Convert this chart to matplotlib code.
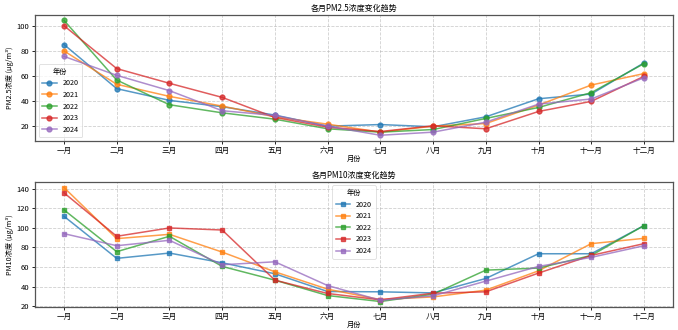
import numpy as np
import matplotlib.pyplot as plt

plt.rcParams['font.family'] = ['Noto Sans CJK SC', 'DejaVu Sans']
plt.rcParams['axes.unicode_minus'] = False

months = ['一月', '二月', '三月', '四月', '五月', '六月',
          '七月', '八月', '九月', '十月', '十一月', '十二月']
years = ['2020', '2021', '2022', '2023', '2024']

# monthly PM2.5 per year
pm25_2020 = [85.5, 50.1, 40.7, 35.6, 28.9, 20.0, 21.3, 19.5, 27.5, 42.0, 45.8, 70.8]
pm25_2021 = [80.4, 53.6, 43.9, 36.1, 27.5, 21.6, 15.2, 20.0, 22.1, 36.9, 53.0, 62.2]
pm25_2022 = [104.9, 57.0, 37.2, 30.7, 25.6, 17.9, 15.2, 17.3, 26.2, 35.0, 46.9, 70.2]
pm25_2023 = [100.6, 66.2, 54.4, 43.1, 27.0, 19.2, 15.7, 20.3, 17.9, 31.8, 39.9, 60.0]
pm25_2024 = [76.0, 60.8, 48.5, 32.4, 28.6, 20.0, 12.7, 15.2, 23.2, 37.7, 41.8, 58.9]

# monthly PM10 per year
pm10_2020 = [111.7, 68.8, 74.2, 64.3, 53.1, 35.0, 34.7, 33.6, 48.3, 73.5, 73.5, 102.2]
pm10_2021 = [141.0, 88.9, 93.3, 75.2, 55.1, 37.4, 26.8, 29.5, 36.4, 56.1, 83.8, 89.2]
pm10_2022 = [118.2, 75.6, 91.3, 60.6, 46.6, 30.9, 24.8, 32.3, 56.8, 58.9, 71.8, 102.2]
pm10_2023 = [135.6, 91.3, 99.8, 97.7, 46.6, 33.0, 26.5, 33.3, 34.7, 53.8, 71.8, 83.8]
pm10_2024 = [94.0, 81.7, 87.2, 62.3, 65.3, 41.1, 26.1, 30.6, 45.6, 60.6, 69.8, 81.7]

pm25 = [pm25_2020, pm25_2021, pm25_2022, pm25_2023, pm25_2024]
pm10 = [pm10_2020, pm10_2021, pm10_2022, pm10_2023, pm10_2024]

fs = 5.5
fig = plt.figure(figsize=(6.78, 3.30), dpi=100)
ax1 = fig.add_axes([0.0516, 0.5727, 0.941, 0.383])
ax2 = fig.add_axes([0.0516, 0.0690, 0.941, 0.380])

x = np.arange(len(months))


def draw(ax, data, marker, title, ylabel, loc):
    for yr, vals in zip(years, data):
        ax.plot(x, vals, marker=marker, markersize=3.5, linewidth=1.1,
                alpha=0.75, label=yr)
    ax.set_title(title, fontsize=fs + 0.3, pad=3)
    ax.set_xlabel('月份', fontsize=fs - 0.3, labelpad=0)
    ax.set_ylabel(ylabel, fontsize=fs - 0.3, labelpad=2)
    ax.set_xticks(x)
    ax.set_xticklabels(months)
    ax.tick_params(labelsize=fs, length=2.5, width=0.6, pad=1.5)
    ax.grid(True, linestyle='--', alpha=0.6, linewidth=0.6)
    for s in ax.spines.values():
        s.set_color('#555555')
        s.set_linewidth(0.9)
    leg = ax.legend(title='年份', loc=loc, fontsize=fs - 0.3,
                    title_fontsize=fs - 0.3, frameon=True, handlelength=2.0,
                    labelspacing=0.5, borderpad=0.5)
    leg.get_frame().set_linewidth(0.5)


draw(ax1, pm25, 'o', '各月PM2.5浓度变化趋势', 'PM2.5浓度 (μg/m³)', 'lower left')
draw(ax2, pm10, 's', '各月PM10浓度变化趋势', 'PM10浓度 (μg/m³)', 'upper center')

fig.savefig('out.png', dpi=100)
